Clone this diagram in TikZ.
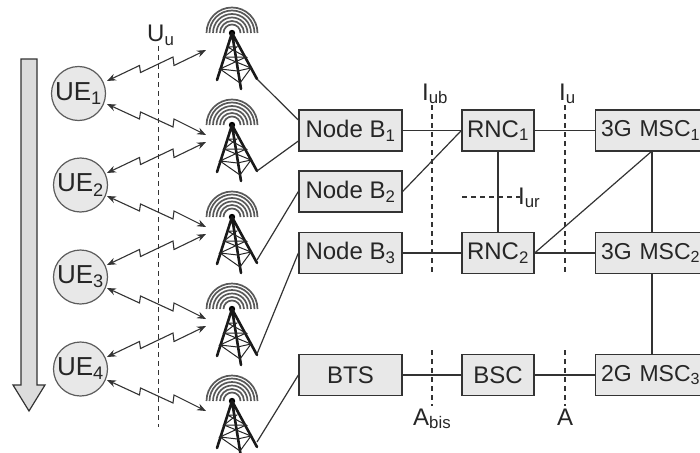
\documentclass[tikz,border=0pt]{standalone}
\usepackage{fontspec}
\setmainfont{Liberation Sans}
\usetikzlibrary{arrows.meta}
\definecolor{boxfill}{gray}{0.91}
\definecolor{ink}{gray}{0.2}
\tikzset{
  x=1pt,y=-1pt,
  box/.style={draw=ink,fill=boxfill,line width=1.3pt,minimum height=41pt,inner sep=0pt,font=\fontsize{24}{24}\selectfont,text=black!85},
  msc/.style={box,font=\fontsize{23}{23}\selectfont,anchor=west,text width=114pt,align=left,inner xsep=5.5pt},
  ue/.style={draw=ink!80,fill=boxfill,circle,line width=1.2pt,minimum size=54pt,inner sep=0pt,font=\fontsize{26}{26}\selectfont,text=black!85},
  link/.style={draw=ink,line width=1.2pt},
  cut/.style={draw=ink,line width=1.1pt,dash pattern=on 5pt off 4pt},
  wave/.style={draw=ink,line width=1.1pt,{Stealth[length=9pt,width=7pt]}-{Stealth[length=9pt,width=7pt]}},
  lab/.style={font=\fontsize{24}{24}\selectfont,text=black!85,inner sep=0pt,anchor=base west},
  tw/.style={line width=2.6pt,black!90,line cap=round},
  twt/.style={line width=1pt,black!85},
}
\newcommand{\tower}[2]{%
  \begin{scope}[shift={(#1,#2)}]
    \foreach \r in {8.5,12,15.5,19,22.5,25.5}
      \draw[line width=1.7pt,black!65] (-\r,0) arc[start angle=180,end angle=360,radius=\r];
    \fill[black] (0,0) circle (3.2);
    \draw[tw] (0,0) -- (-15,47) (0,0) -- (9,56) (0,0) -- (25,46);
    \draw[twt] (-4.5,14) -- (4.8,14) -- (-8,24) -- (14,24) -- (-4.5,14);
    \draw[twt] (-8,24) -- (19,35) -- (5.5,38) -- (-12,36) -- (14,24);
    \draw[twt] (-12,36) -- (8,50) -- (19,35);
  \end{scope}}
\newcommand{\wavedown}[1]{%
  \draw[wave] (107,{104+#1}) -- (139.5,{119+#1}) -- (140.5,{112+#1}) -- (173,{127+#1}) -- (174,{119+#1}) -- (206,{135+#1});}
\newcommand{\waveup}[1]{%
  \draw[wave] (107,{81+#1}) -- (139.5,{65.5+#1}) -- (140.5,{72.5+#1}) -- (173,{57+#1}) -- (174,{65.5+#1}) -- (206,{50+#1});}
\begin{document}
\begin{tikzpicture}
\useasboundingbox (0,0) rectangle (700,452);
\begin{scope}
\clip (0,0) rectangle (700,452);
% big arrow
\path[draw=ink,fill=boxfill!95!black,line width=1.2pt] (21,59) -- (37,59) -- (37,385) -- (45,385) -- (29,411) -- (13,385) -- (21,385) -- cycle;
% cut lines
\coordinate (uut) at (158.5,46); \coordinate (uub) at (158.5,427);
\coordinate (iubt) at (432,105); \coordinate (iubm) at (432,272);
\coordinate (abt) at (432,350); \coordinate (abb) at (432,406);
\coordinate (iut) at (565,105); \coordinate (ium) at (565,272);
\coordinate (at) at (565,350); \coordinate (ab) at (565,406);
\coordinate (iurl) at (462,197); \coordinate (iurr) at (520,197);
\draw[cut] (uut) -- (uub);
\draw[cut] (iubt) -- (iubm);
\draw[cut] (abt) -- (abb);
\draw[cut] (iut) -- (ium);
\draw[cut] (at) -- (ab);
\draw[cut] (iurl) -- (iurr);
% UEs
\node[ue] (ue1) at (78.5,93.5) {UE\textsubscript{1}};
\node[ue] (ue2) at (80.5,185) {UE\textsubscript{2}};
\node[ue] (ue3) at (80.5,277) {UE\textsubscript{3}};
\node[ue] (ue4) at (80.5,369) {UE\textsubscript{4}};
% wave links
\waveup{0}\wavedown{0}\waveup{92}\wavedown{92}\waveup{184}\wavedown{184}\waveup{276}\wavedown{276}
% towers
\tower{232}{33}\tower{232}{125}\tower{232}{217}\tower{232}{309}\tower{232}{401}
\coordinate (t1) at (257,79); \coordinate (t2) at (257,171); \coordinate (t3) at (257,260); \coordinate (t4) at (257,354); \coordinate (t5) at (257,442);
% boxes
\node[box,minimum width=103pt] (nb1) at (350.5,130.5) {Node B\textsubscript{1}};
\node[box,minimum width=103pt] (nb2) at (350.5,191.5) {Node B\textsubscript{2}};
\node[box,minimum width=103pt] (nb3) at (350.5,253) {Node B\textsubscript{3}};
\node[box,minimum width=103pt] (bts) at (350.5,375) {BTS};
\node[box,minimum width=72pt] (rnc1) at (498,130.5) {RNC\textsubscript{1}};
\node[box,minimum width=72pt] (rnc2) at (498,253) {RNC\textsubscript{2}};
\node[box,minimum width=72pt] (bsc) at (498,375) {BSC};
\node[msc] (msc1) at (595,130.5) {3G MSC\textsubscript{1}};
\node[msc] (msc2) at (595,253) {3G MSC\textsubscript{2}};
\node[msc] (msc3) at (595,375) {2G MSC\textsubscript{3}};
% links
\draw[link] (t1) -- (nb1.west |- 0,120);
\draw[link] (t2) -- (nb1.west |- 0,141);
\draw[link] (t3) -- (nb2.west);
\draw[link] (t4) -- (nb3.west);
\draw[link] (t5) -- (bts.west);
\draw[link] (nb1) -- (rnc1);
\draw[link] (nb2.east) -- (rnc1.west);
\draw[link] (nb3) -- (rnc2);
\draw[link] (bts) -- (bsc);
\draw[link] (rnc1) -- (msc1.west);
\draw[link] (rnc2) -- (msc2.west);
\draw[link] (bsc) -- (msc3.west);
\draw[link] (rnc1) -- (rnc2);
\draw[link] (rnc2.east) -- (652,151);
\draw[link] (652,151) -- (652,232.5);
\draw[link] (652,273.5) -- (652,354.5);
% labels
\node[lab] (lu) at (147,41.5) {U\textsubscript{u}};
\node[lab] (lb) at (422,100) {I\textsubscript{ub}};
\node[lab] (li) at (559,100) {I\textsubscript{u}};
\node[lab] (lr) at (518,204) {I\textsubscript{ur}};
\node[lab] (la) at (413,425) {A\textsubscript{bis}};
\node[lab] (a) at (557,425) {A};
\end{scope}
\end{tikzpicture}
\end{document}
